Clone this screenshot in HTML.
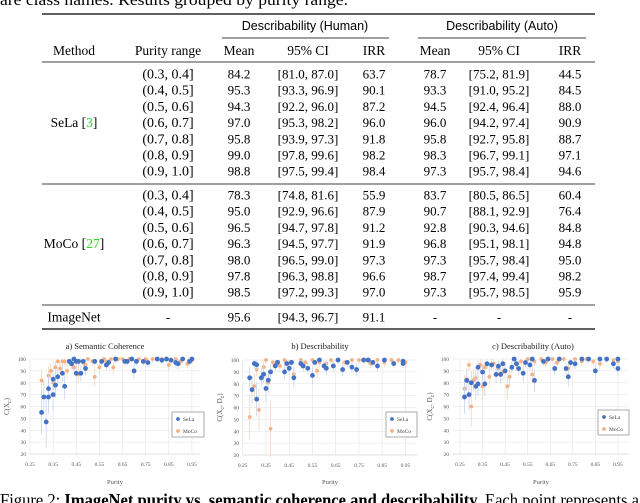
<!DOCTYPE html>
<html><head><meta charset="utf-8"><style>
html,body{margin:0;padding:0;background:#fff;}
svg{display:block}
.serif{font-family:"Liberation Serif",serif;}
.sans{font-family:"Liberation Sans",sans-serif;}
</style></head><body>
<svg id="fig" width="640" height="503" viewBox="0 0 640 503" xmlns="http://www.w3.org/2000/svg">
<text class="serif" x="0" y="5" font-size="16" textLength="348" lengthAdjust="spacingAndGlyphs">are class names. Results grouped by purity range.</text>
<g id="table"></g>
<g id="charts"></g>
<text class="serif" x="0" y="506" font-size="18" textLength="639" lengthAdjust="spacingAndGlyphs">Figure 2: <tspan font-weight="bold">ImageNet purity vs. semantic coherence and describability.</tspan> Each point represents a</text>
</svg>
<script>
// ---------- TABLE DATA ----------
const purityRanges = ["(0.3, 0.4]","(0.4, 0.5]","(0.5, 0.6]","(0.6, 0.7]","(0.7, 0.8]","(0.8, 0.9]","(0.9, 1.0]"];
const selaRows = [
 ["84.2","[81.0, 87.0]","63.7","78.7","[75.2, 81.9]","44.5"],
 ["95.3","[93.3, 96.9]","90.1","93.3","[91.0, 95.2]","84.5"],
 ["94.3","[92.2, 96.0]","87.2","94.5","[92.4, 96.4]","88.0"],
 ["97.0","[95.3, 98.2]","96.0","96.0","[94.2, 97.4]","90.9"],
 ["95.8","[93.9, 97.3]","91.8","95.8","[92.7, 95.8]","88.7"],
 ["99.0","[97.8, 99.6]","98.2","98.3","[96.7, 99.1]","97.1"],
 ["98.8","[97.5, 99.4]","98.4","97.3","[95.7, 98.4]","94.6"]];
const mocoRows = [
 ["78.3","[74.8, 81.6]","55.9","83.7","[80.5, 86.5]","60.4"],
 ["95.0","[92.9, 96.6]","87.9","90.7","[88.1, 92.9]","76.4"],
 ["96.5","[94.7, 97.8]","91.2","92.8","[90.3, 94.6]","84.8"],
 ["96.3","[94.5, 97.7]","91.9","96.8","[95.1, 98.1]","94.8"],
 ["98.0","[96.5, 99.0]","97.3","97.3","[95.7, 98.4]","95.0"],
 ["97.8","[96.3, 98.8]","96.6","98.7","[97.4, 99.4]","98.2"],
 ["98.5","[97.2, 99.3]","97.0","97.3","[95.7, 98.5]","95.9"]];
const imagenetRow = ["95.6","[94.3, 96.7]","91.1","-","-","-"];

const NS="http://www.w3.org/2000/svg";
function mk(parent,tag,attrs,txt){const e=document.createElementNS(NS,tag);for(const k in attrs)e.setAttribute(k,attrs[k]);if(txt!==undefined)e.textContent=txt;parent.appendChild(e);return e;}

const T=document.getElementById('table');
const colX=[239,308,374,435,499,570];
function rule(y,x1,x2,w,name){const l=mk(T,'line',{x1:x1,x2:x2,y1:y,y2:y,stroke:'#000','stroke-width':w});

}
function numText(x,y,s,name){const t=mk(T,'text',{class:'serif',x:x,y:y,'text-anchor':'middle','font-size':13},s);

}
function plainText(x,y,s,cls,size,name,anchor){const t=mk(T,'text',{class:cls,x:x,y:y,'text-anchor':anchor||'middle','font-size':size},s);

return t;}

rule(14,42,595,1.3,'table-top-rule');
rule(38,222,389,0.7,'human-group-rule');
rule(38,418,586,0.7,'auto-group-rule');
rule(62,42,595,0.8,'header-rule');
rule(184,42,595,0.8,'sela-moco-rule');
rule(305,42,595,0.8,'imagenet-rule');
rule(329,42,595,1.3,'table-bottom-rule');

plainText(305,30,'Describability (Human)','sans',12.5,'human-group-header');
plainText(502,30,'Describability (Auto)','sans',12.5,'auto-group-header');
plainText(74,55,'Method','serif',13.5,'method-header');
plainText(168,55,'Purity range','serif',13.5,'purity-range-header');
['Mean','95% CI','IRR','Mean','95% CI','IRR'].forEach((h,i)=>plainText(colX[i],55,h,'serif',13.5,'col-header-'+h.toLowerCase().replace(/[^a-z0-9]+/g,'-')));

function block(rows,y0,label,labelName){
 rows.forEach((r,i)=>{const y=y0+i*16.2+4.5;
  plainText(168,y,purityRanges[i],'serif',14,'purity-range-cell');
  r.forEach((v,j)=>numText(colX[j],y,v,'value-cell'));});
 const ly=y0+3*16.2+4.5;
 const t=plainText(74,ly,'','serif',13.5,labelName);
 t.innerHTML=label;
}
block(selaRows,74,'SeLa [<tspan fill="#22dd22">3</tspan>]','sela-label');
block(mocoRows,195,'MoCo [<tspan fill="#22dd22">27</tspan>]','moco-label');
plainText(74,321.5,'ImageNet','serif',13.5,'imagenet-label');
plainText(168,321.5,'-','serif',13,'purity-range-cell');
imagenetRow.forEach((v,j)=>numText(colX[j],321.5,v,'value-cell'));

// ---------- CHART DATA ----------
const xTicks=[0.25,0.35,0.45,0.55,0.65,0.75,0.85,0.95];
const xTickLabels=["0.25","0.35","0.45","0.55","0.65","0.75","0.85","0.95"];
const yTicks=[20,30,40,50,60,70,80,90,100];
const seriesNames=["SeLa","MoCo"];

const aSelaX=[0.30,0.31,0.32,0.33,0.33,0.35,0.35,0.36,0.37,0.39,0.40,0.42,0.43,0.44,0.45,0.46,0.45,0.47,0.48,0.49,0.53,0.56,0.58,0.59,0.62,0.66,0.67,0.69,0.70,0.71,0.74,0.76,0.80,0.82,0.84,0.86,0.88,0.89,0.91,0.94,0.95];
const aSelaY=[55,68,47,75,68,70,83,78,85,88,77,98,96,100,98,98,88,88,98,92,98,98,95,97,100,98,98,100,90,98,98,97,100,99,100,99,97,96,100,98,100];
const aMocoX=[0.30,0.33,0.34,0.35,0.36,0.37,0.39,0.38,0.40,0.41,0.42,0.44,0.46,0.48,0.49,0.50,0.52,0.53,0.55,0.57,0.58,0.60,0.61,0.63,0.65,0.68,0.72,0.75,0.78,0.82,0.85,0.88,0.90,0.93,0.95];
const aMocoY=[82,86,90,80,93,98,98,92,98,90,98,93,87,97,95,100,98,85,93,100,98,100,93,100,100,100,100,100,100,100,95,100,98,96,99];

const bSelaX=[0.28,0.29,0.30,0.31,0.31,0.33,0.34,0.35,0.36,0.37,0.39,0.40,0.43,0.44,0.45,0.46,0.47,0.50,0.51,0.53,0.55,0.56,0.58,0.60,0.61,0.64,0.66,0.68,0.70,0.72,0.74,0.77,0.79,0.81,0.83,0.86,0.90,0.94,0.94];
const bSelaY=[85,75,97,96,67,85,88,76,83,90,95,98,90,97,93,98,85,97,95,93,87,98,100,95,93,95,100,92,98,94,92,100,100,98,95,100,97,99,97];
const bMocoX=[0.28,0.30,0.31,0.32,0.34,0.35,0.36,0.37,0.38,0.41,0.43,0.45,0.47,0.50,0.52,0.55,0.57,0.58,0.61,0.63,0.66,0.69,0.72,0.75,0.78,0.80,0.83,0.86,0.89,0.92,0.95];
const bMocoY=[52,78,92,58,94,100,81,42,98,95,100,97,88,100,98,100,91,98,97,100,100,98,100,100,100,97,100,98,100,100,98];

const cSelaX=[0.27,0.28,0.29,0.30,0.32,0.33,0.33,0.35,0.36,0.37,0.39,0.41,0.42,0.43,0.44,0.45,0.48,0.49,0.50,0.51,0.53,0.54,0.56,0.57,0.58,0.62,0.64,0.67,0.69,0.72,0.73,0.74,0.76,0.79,0.82,0.85,0.87,0.90,0.93,0.95,0.95];
const cSelaY=[68,82,70,80,77,93,79,89,79,96,95,87,94,87,96,90,93,100,96,92,88,97,95,100,82,98,100,92,100,92,85,97,96,100,100,90,100,100,96,92,100];
const cMocoX=[0.27,0.28,0.29,0.30,0.31,0.32,0.34,0.35,0.36,0.38,0.40,0.42,0.44,0.46,0.47,0.50,0.52,0.54,0.55,0.57,0.58,0.61,0.63,0.66,0.68,0.71,0.73,0.76,0.79,0.81,0.84,0.87,0.90,0.93,0.95];
const cMocoY=[75,83,95,60,82,84,95,77,93,85,96,92,89,77,85,96,98,97,100,87,98,100,97,100,97,100,92,100,98,100,98,96,100,99,98];

const charts=[
 {name:'semantic-coherence',title:'a) Semantic Coherence',ylabHtml:'C(X<tspan font-size="6" dy="2">c</tspan><tspan dy="-2">)</tspan>',
  px0:30,px1:200,dx0:0.25,dx1:0.985,py0:454,py1:359,tx:105,ylx:9,
  sx:aSelaX,sy:aSelaY,mx:aMocoX,my:aMocoY,lg:[172,412,32,25]},
 {name:'describability',title:'b) Describability',ylabHtml:'C(X<tspan font-size="6" dy="2">c</tspan><tspan dy="-2">, D</tspan><tspan font-size="6" dy="2">c</tspan><tspan dy="-2">)</tspan>',
  px0:243,px1:417,dx0:0.2512,dx1:1.0,py0:455,py1:360,tx:320,ylx:222,
  sx:bSelaX,sy:bSelaY,mx:bMocoX,my:bMocoY,lg:[386,412,31,25]},
 {name:'describability-auto',title:'c) Describability (Auto)',ylabHtml:'C(X<tspan font-size="6" dy="2">c</tspan><tspan dy="-2">, D</tspan><tspan font-size="6" dy="2">c</tspan><tspan dy="-2">)</tspan>',
  px0:453,px1:629,dx0:0.219,dx1:0.999,py0:454,py1:359,tx:533,ylx:432,
  sx:cSelaX,sy:cSelaY,mx:cMocoX,my:cMocoY,lg:[598,410,31,25]}
];

const C=document.getElementById('charts');
charts.forEach(ch=>{
 const g=mk(C,'g',{});
 
 
 const X=v=>ch.px0+(v-ch.dx0)/(ch.dx1-ch.dx0)*(ch.px1-ch.px0);
 const Y=v=>ch.py0+(v-20)/80*(ch.py1-ch.py0);
 yTicks.forEach(t=>{
  const l=mk(g,'line',{x1:ch.px0,x2:ch.px1,y1:Y(t),y2:Y(t),stroke:t===20?'#bfbfbf':'#e3e3e3','stroke-width':0.6});
  
  
  const tl=mk(g,'text',{class:'serif',x:ch.px0-4,y:Y(t)+2,'text-anchor':'end','font-size':5.5,fill:'#555'},String(t));
  
  
 });
 xTicks.forEach((t,i)=>{
  const l=mk(g,'line',{x1:X(t),x2:X(t),y1:ch.py0,y2:ch.py1,stroke:'#e3e3e3','stroke-width':0.6});
  
  
  const tl=mk(g,'text',{class:'serif',x:X(t),y:ch.py0+12,'text-anchor':'middle','font-size':5.5,fill:'#555'},xTickLabels[i]);
  
  
 });
 const tt=mk(g,'text',{class:'serif',x:ch.tx,y:349,'text-anchor':'middle','font-size':8.5,fill:'#222'},ch.title);
 
 
 const xl=mk(g,'text',{class:'serif',x:(ch.px0+ch.px1)/2,y:484,'text-anchor':'middle','font-size':6.5,fill:'#555'},'Purity');
 
 
 const yl=mk(g,'text',{class:'serif',transform:`translate(${ch.ylx},${(ch.py0+ch.py1)/2}) rotate(-90)`,'text-anchor':'middle','font-size':7,fill:'#555'});
 yl.innerHTML=ch.ylabHtml;
 
 
 const drawSeries=(xs,ys,col,ecol,r,name)=>{
  xs.forEach((xv,i)=>{
   const v=ys[i];const e=3+(100-v)*0.35;
   const eb=mk(g,'line',{x1:X(xv),x2:X(xv),y1:Y(Math.min(100,v+e)),y2:Y(v-e),stroke:ecol,'stroke-width':0.8});
   
   
  });
  xs.forEach((xv,i)=>{
   const p=mk(g,'circle',{cx:X(xv),cy:Y(ys[i]),r:r,fill:col});
   
   
  });
 };
 drawSeries(ch.mx,ch.my,'#f4b183','#f8d3b9',1.9,'moco');
 drawSeries(ch.sx,ch.sy,'#4472c4','#c5d4ee',2.4,'sela');
 const [lx,ly,lw,lh]=ch.lg;
 const lg=mk(g,'g',{});
 
 
 mk(lg,'rect',{x:lx,y:ly,width:lw,height:lh,fill:'#fff',stroke:'#888','stroke-width':0.7});
 [['#4472c4',seriesNames[0]],['#f4b183',seriesNames[1]]].forEach(([c,n],i)=>{
  const cy=ly+7+i*12;
  const d=mk(lg,'circle',{cx:lx+6,cy:cy,r:1.9,fill:c});
  
  
  const t=mk(lg,'text',{class:'serif',x:lx+11,y:cy+2,'font-size':5.5,fill:'#444'},n);
  
  
 });
});
</script>
</body></html>
